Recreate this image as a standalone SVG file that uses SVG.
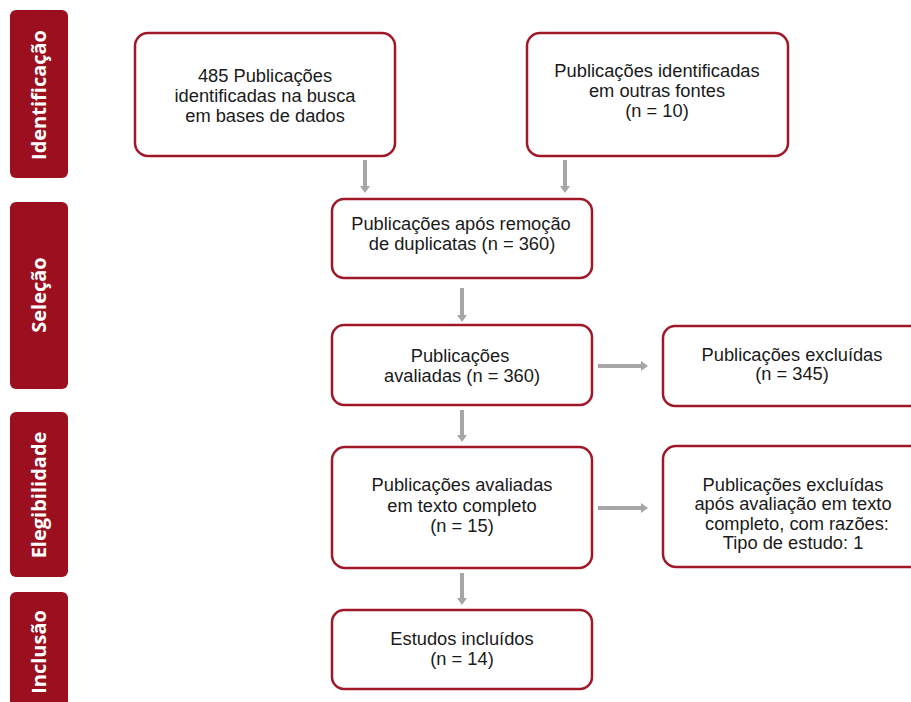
<svg xmlns="http://www.w3.org/2000/svg" width="911" height="702" viewBox="0 0 911 702">
<style>
.bar{fill:#9b0f1e}
.bt{fill:#ffffff;font-family:"Open Sans","DejaVu Sans",sans-serif;font-weight:bold;font-size:20px;text-anchor:middle}
.box{fill:#ffffff;stroke:#a01828;stroke-width:2.5}
.t{fill:#1a1a1a;font-family:"Liberation Sans",Arial,sans-serif;font-size:18.3px;text-anchor:middle}
.ar{stroke:#a6a6a6;stroke-width:4;fill:none}
.ah{fill:#a6a6a6}
</style>
<rect width="911" height="702" fill="#ffffff"/>
<g id="stage-identificacao"><rect class="bar" x="10" y="10" width="58" height="168" rx="6"/><text class="bt" transform="translate(46,95) rotate(-90)">Identificação</text></g>
<g id="stage-selecao"><rect class="bar" x="10" y="202" width="58" height="187" rx="6"/><text class="bt" transform="translate(46,295) rotate(-90)">Seleção</text></g>
<g id="stage-elegibilidade"><rect class="bar" x="10" y="412" width="58" height="165" rx="6"/><text class="bt" transform="translate(46,495) rotate(-90)">Elegibilidade</text></g>
<g id="stage-inclusao"><rect class="bar" x="10" y="592" width="58" height="120" rx="6"/><text class="bt" transform="translate(46,652) rotate(-90)">Inclusão</text></g>

<g id="n1"><rect class="box" x="135" y="33" width="260" height="123" rx="13"/><text class="t" x="265" y="82">485 Publicações</text><text class="t" x="265" y="102">identificadas na busca</text><text class="t" x="265" y="122">em bases de dados</text></g>
<g id="n2"><rect class="box" x="527" y="33" width="261" height="123" rx="13"/><text class="t" x="657" y="77">Publicações identificadas</text><text class="t" x="657" y="97">em outras fontes</text><text class="t" x="657" y="117">(n = 10)</text></g>
<g id="n3"><rect class="box" x="332" y="199" width="260" height="79" rx="12"/><text class="t" x="461" y="230">Publicações após remoção</text><text class="t" x="462" y="250">de duplicatas (n = 360)</text></g>
<g id="n4"><rect class="box" x="332" y="325" width="260" height="80" rx="12"/><text class="t" x="460" y="362">Publicações</text><text class="t" x="462" y="382">avaliadas (n = 360)</text></g>
<g id="n5"><rect class="box" x="663" y="326" width="260" height="80" rx="12"/><text class="t" x="792" y="361">Publicações excluídas</text><text class="t" x="792" y="380">(n = 345)</text></g>
<g id="n6"><rect class="box" x="332" y="447" width="260" height="121" rx="13"/><text class="t" x="462" y="491">Publicações avaliadas</text><text class="t" x="462" y="512">em texto completo</text><text class="t" x="462" y="532">(n = 15)</text></g>
<g id="n7"><rect class="box" x="663" y="446" width="260" height="121" rx="13"/><text class="t" x="793" y="491">Publicações excluídas</text><text class="t" x="793" y="510">após avaliação em texto</text><text class="t" x="797" y="530">completo, com razões:</text><text class="t" x="793" y="549">Tipo de estudo: 1</text></g>
<g id="n8"><rect class="box" x="332" y="610" width="260" height="79" rx="12"/><text class="t" x="462" y="645">Estudos incluídos</text><text class="t" x="462" y="665">(n = 14)</text></g>

<g id="connectors">
<line class="ar" x1="365" y1="160" x2="365" y2="187"/><path class="ah" d="M360,186 L370,186 L365,193 Z"/>
<line class="ar" x1="565" y1="160" x2="565" y2="187"/><path class="ah" d="M560,186 L570,186 L565,193 Z"/>
<line class="ar" x1="462" y1="288" x2="462" y2="316"/><path class="ah" d="M457,315 L467,315 L462,322 Z"/>
<line class="ar" x1="462" y1="410" x2="462" y2="436"/><path class="ah" d="M457,435 L467,435 L462,442 Z"/>
<line class="ar" x1="462" y1="573" x2="462" y2="599"/><path class="ah" d="M457,598 L467,598 L462,605 Z"/>
<line class="ar" x1="598" y1="366" x2="642" y2="366"/><path class="ah" d="M641,361 L641,371 L648,366 Z"/>
<line class="ar" x1="598" y1="508" x2="642" y2="508"/><path class="ah" d="M641,503 L641,513 L648,508 Z"/>
</g>
</svg>
